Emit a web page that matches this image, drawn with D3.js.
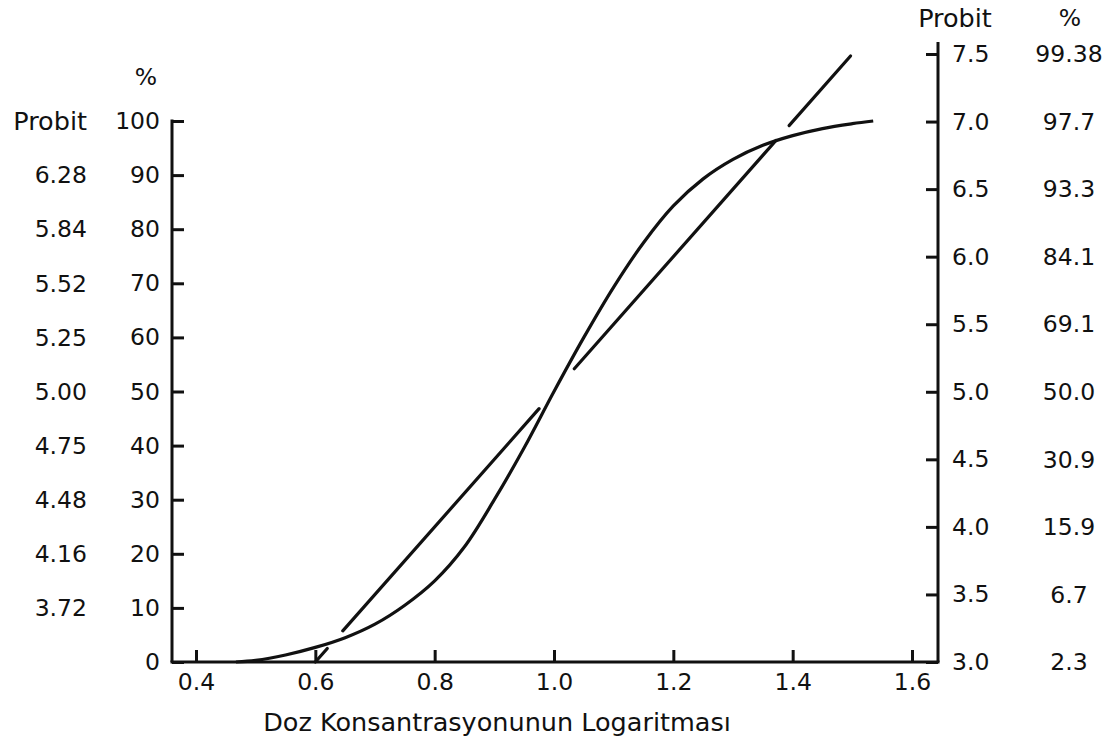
<!DOCTYPE html>
<html>
<head>
<meta charset="utf-8">
<script src="https://cdn.jsdelivr.net/npm/d3@7/dist/d3.min.js"></script>
<style>
  html, body { margin: 0; padding: 0; background: #fff; }
  svg { display: block; }
  text { font-family: "DejaVu Sans", Verdana, sans-serif; font-size: 23.5px; fill: #111; }
  .word { font-size: 25.5px; }
</style>
</head>
<body>
<svg id="chart" width="1114" height="747"></svg>
<script>
// Sigmoid dose-response curve: percent response against log dose
const logDose = [0.467, 0.50, 0.55, 0.60, 0.65, 0.70, 0.75, 0.80, 0.85, 0.90, 0.95, 1.00, 1.05, 1.10, 1.15, 1.20, 1.25, 1.30, 1.35, 1.40, 1.45, 1.50, 1.535];
const percentResponse = [0, 0.3, 1.3, 2.7, 4.5, 7.0, 10.5, 15.0, 21.3, 30.0, 39.6, 50.0, 60.0, 69.3, 77.5, 84.3, 89.3, 92.9, 95.5, 97.3, 98.6, 99.5, 100];

// Probit regression line, drawn in pieces that stop short of the curve
const probitSegmentDose = [[0.600, 0.620], [0.646, 0.975], [1.034, 1.372], [1.394, 1.497]];
const probitSegmentValue = [[3.00, 3.10], [3.23, 4.875], [5.17, 6.86], [6.97, 7.485]];

// Tick labels
const doseTicks = [0.4, 0.6, 0.8, 1.0, 1.2, 1.4, 1.6];
const percentTicks = [0, 10, 20, 30, 40, 50, 60, 70, 80, 90, 100];
const leftProbitLabels = ["", "3.72", "4.16", "4.48", "4.75", "5.00", "5.25", "5.52", "5.84", "6.28", "Probit"];
const probitTicks = [3.0, 3.5, 4.0, 4.5, 5.0, 5.5, 6.0, 6.5, 7.0, 7.5];
const rightPercentLabels = ["2.3", "6.7", "15.9", "30.9", "50.0", "69.1", "84.1", "93.3", "97.7", "99.38"];

const svg = d3.select("#chart");

const xLeft = 172, xRight = 938, yBase = 662;
const x = d3.scaleLinear().domain([0.4, 1.6]).range([196, 912]);
const yPct = d3.scaleLinear().domain([0, 100]).range([yBase, 121]);
const yProbit = d3.scaleLinear().domain([3.0, 7.5]).range([yBase, 54]);

const axisStroke = 3;
const tickLen = 12;

function styleAxis(g) {
  g.select(".domain").remove();
  g.selectAll(".tick line").attr("stroke", "#111").attr("stroke-width", axisStroke);
  g.selectAll(".tick text").attr("font-size", null).attr("font-family", null).attr("fill", "#111");
}

// Bottom axis (ticks point up into the plot)
svg.append("g")
  .attr("transform", `translate(0,${yBase})`)
  .call(d3.axisBottom(x).tickValues(doseTicks).tickFormat(d3.format(".1f"))
    .tickSizeInner(-tickLen).tickSizeOuter(0).tickPadding(11))
  .call(styleAxis);

// Left percent axis (ticks point right)
svg.append("g")
  .attr("transform", `translate(${xLeft},0)`)
  .call(d3.axisLeft(yPct).tickValues(percentTicks).tickFormat(d3.format("d"))
    .tickSizeInner(-tickLen).tickSizeOuter(0).tickPadding(12))
  .call(styleAxis);

// Left probit column
svg.append("g").selectAll("text")
  .data(percentTicks)
  .join("text")
  .attr("class", (d, i) => leftProbitLabels[i] === "Probit" ? "word" : null)
  .attr("x", 87)
  .attr("y", d => yPct(d))
  .attr("dy", "0.35em")
  .attr("text-anchor", "end")
  .text((d, i) => leftProbitLabels[i]);

svg.append("text")
  .attr("x", 146).attr("y", 77).attr("dy", "0.35em")
  .attr("text-anchor", "middle").text("%");

// Right probit axis (ticks point left)
svg.append("g")
  .attr("transform", `translate(${xRight},0)`)
  .call(d3.axisRight(yProbit).tickValues(probitTicks).tickFormat(d3.format(".1f"))
    .tickSizeInner(-tickLen).tickSizeOuter(0).tickPadding(14))
  .call(styleAxis);

// Right percent column
svg.append("g").selectAll("text")
  .data(probitTicks)
  .join("text")
  .attr("x", 1069)
  .attr("y", d => yProbit(d))
  .attr("dy", "0.35em")
  .attr("text-anchor", "middle")
  .text((d, i) => rightPercentLabels[i]);

svg.append("text")
  .attr("class", "word")
  .attr("x", 955).attr("y", 18).attr("dy", "0.35em")
  .attr("text-anchor", "middle").text("Probit");
svg.append("text")
  .attr("x", 1070).attr("y", 18).attr("dy", "0.35em")
  .attr("text-anchor", "middle").text("%");

// Axis frame lines
const frame = svg.append("g").attr("stroke", "#111").attr("stroke-width", axisStroke).attr("fill", "none");
frame.append("line").attr("x1", xLeft).attr("x2", xRight).attr("y1", yBase).attr("y2", yBase).attr("stroke-linecap", "square");
frame.append("line").attr("x1", xLeft).attr("x2", xLeft).attr("y1", yBase).attr("y2", yPct(100) - 1.5);
frame.append("line").attr("x1", xRight).attr("x2", xRight).attr("y1", yBase).attr("y2", 42);

// Dose-response curve
const curveLine = d3.line()
  .x((d, i) => x(logDose[i]))
  .y(d => yPct(d))
  .curve(d3.curveCatmullRom.alpha(0.5));

svg.append("path")
  .datum(percentResponse)
  .attr("d", curveLine)
  .attr("fill", "none")
  .attr("stroke", "#111")
  .attr("stroke-width", 3.2);

// Probit line pieces
svg.append("g").selectAll("line")
  .data(probitSegmentDose)
  .join("line")
  .attr("x1", d => x(d[0]))
  .attr("x2", d => x(d[1]))
  .attr("y1", (d, i) => yProbit(probitSegmentValue[i][0]))
  .attr("y2", (d, i) => yProbit(probitSegmentValue[i][1]))
  .attr("stroke", "#111")
  .attr("stroke-width", 3.2)
  .attr("stroke-linecap", "round");

// Horizontal axis title
svg.append("text")
  .attr("class", "word")
  .attr("x", 497).attr("y", 722).attr("dy", "0.35em")
  .attr("text-anchor", "middle")
  .text("Doz Konsantrasyonunun Logaritması");
</script>
</body>
</html>
